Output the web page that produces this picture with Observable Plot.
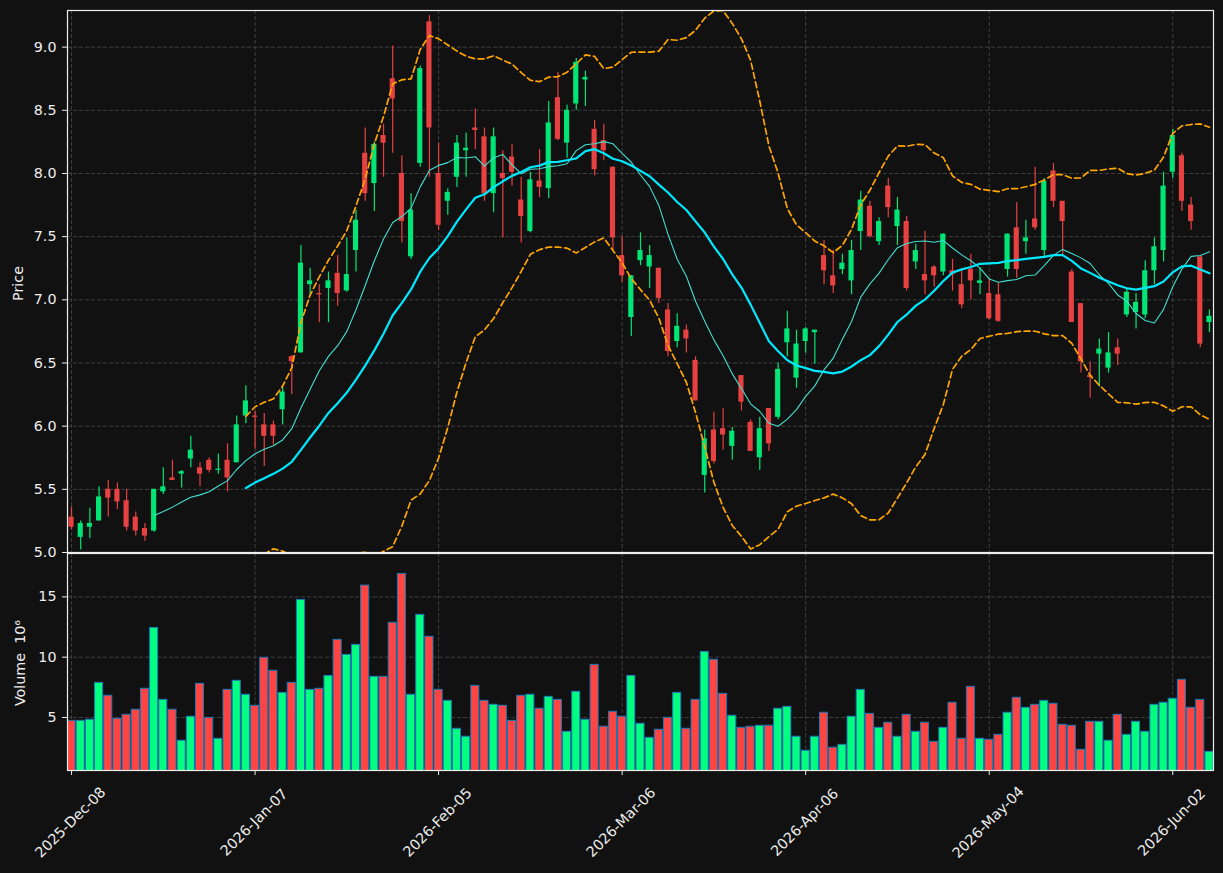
<!DOCTYPE html>
<html><head><meta charset="utf-8">
<script src="https://cdn.jsdelivr.net/npm/d3@7"></script>
<script src="https://cdn.jsdelivr.net/npm/@observablehq/plot@0.6"></script>
<style>
html,body{margin:0;padding:0;background:#111111;}
#chart{position:relative;width:1223px;height:873px;background:#111111;overflow:hidden;}
#chart svg{position:absolute;left:0;overflow:visible;}
#chart svg text{font-family:'DejaVu Sans',sans-serif !important;font-size:14.3px !important;}
</style></head><body><div id="chart"></div>
<script>
// Daily OHLC (index 0 = 2025-12-08, trading days)
const open  = [5.28,5.12,5.20,5.25,5.50,5.50,5.41,5.28,5.19,5.17, 5.48,5.59,5.62,5.74,5.67,5.73,5.65,5.73,5.71,6.08,
               6.08,6.01,6.01,6.13,6.55,6.58,7.12,7.05,7.09,7.21, 7.07,7.39,8.16,7.92,8.30,8.75,8.00,7.34,8.08,9.20,
               8.00,7.78,7.97,8.18,8.36,8.29,7.84,8.00,8.13,7.79, 7.54,7.94,7.88,8.60,8.24,8.55,8.74,8.35,8.26,8.05,
               7.35,6.86,7.31,7.26,7.25,6.92,6.67,6.76,6.52,5.61, 5.97,5.98,5.84,6.40,6.03,5.75,6.14,6.07,6.66,6.38,
               6.67,6.74,7.35,7.19,7.24,7.15,7.54,7.74,7.46,7.90, 7.58,7.62,7.30,7.20,7.26,7.22,7.23,7.12,7.24,7.13,
               7.05,7.04,7.24,7.57,7.46,7.64,7.39,8.02,7.78,7.22, 6.97,6.40,6.57,6.46,6.62,6.88,6.90,6.88,7.23,7.39,
               8.01,8.14,7.75,7.34,6.82];
const high  = [5.36,5.25,5.35,5.52,5.57,5.55,5.50,5.32,5.23,5.50, 5.67,5.73,5.65,5.92,5.71,5.75,5.78,5.86,6.08,6.32,
               6.12,6.10,6.04,6.31,6.56,7.43,7.25,7.12,7.22,7.35, 7.49,7.71,8.36,8.25,8.39,9.01,8.14,7.84,8.85,9.25,
               8.24,7.88,8.30,8.32,8.51,8.36,8.36,8.18,8.23,7.97, 8.01,8.19,8.57,8.80,8.54,8.91,8.81,8.42,8.39,8.05,
               7.50,7.19,7.53,7.43,7.25,6.97,6.89,6.80,6.55,5.97, 6.11,6.14,5.99,6.40,6.05,6.07,6.14,6.50,6.91,6.76,
               6.78,6.76,7.47,7.39,7.36,7.47,7.86,7.78,7.65,7.96, 7.81,7.66,7.44,7.54,7.27,7.52,7.32,7.24,7.36,7.25,
               7.17,7.13,7.52,7.77,7.63,8.05,7.96,8.08,7.78,7.24, 6.97,6.51,6.69,6.74,6.69,7.09,7.05,7.31,7.49,8.01,
               8.35,8.16,7.81,7.34,6.92];
const low   = [5.18,5.02,5.11,5.25,5.28,5.34,5.17,5.13,5.09,5.16, 5.46,5.57,5.51,5.67,5.52,5.63,5.62,5.48,5.71,6.02,
               5.82,5.68,5.85,6.01,6.25,6.58,7.03,6.82,6.82,6.95, 7.06,7.22,7.78,7.70,7.97,8.16,7.45,7.32,8.05,7.97,
               7.55,7.67,7.89,7.97,8.19,7.78,7.69,7.49,7.90,7.45, 7.53,7.81,7.80,8.26,8.12,8.50,8.53,7.98,8.10,7.39,
               7.14,6.71,7.27,7.09,6.97,6.55,6.62,6.58,6.20,5.47, 5.70,5.81,5.73,6.12,5.80,5.65,5.80,6.05,6.55,6.30,
               6.58,6.49,7.12,7.05,7.20,7.04,7.39,7.49,7.43,7.65, 7.43,7.07,7.24,7.04,7.10,7.19,7.07,6.93,7.00,7.04,
               6.84,6.82,7.18,7.17,7.36,7.55,7.33,7.73,7.36,6.82, 6.42,6.22,6.31,6.42,6.48,6.86,6.77,6.85,7.12,7.30,
               7.96,7.70,7.55,6.62,6.74];
const close = [5.20,5.23,5.23,5.44,5.43,5.40,5.20,5.17,5.13,5.50, 5.52,5.57,5.64,5.81,5.62,5.65,5.66,5.59,6.01,6.20,
               6.07,5.92,5.92,6.27,6.51,7.29,7.15,7.04,7.15,7.05, 7.20,7.63,7.84,8.23,8.24,8.59,7.62,7.71,8.83,8.36,
               7.59,7.85,8.24,8.20,8.34,7.84,8.29,7.96,8.01,7.66, 7.95,7.89,8.40,8.27,8.50,8.88,8.76,8.03,8.18,7.49,
               7.19,7.19,7.39,7.35,7.01,6.59,6.79,6.69,6.20,5.90, 5.72,5.93,5.96,6.19,5.80,5.98,5.86,6.45,6.77,6.65,
               6.77,6.76,7.23,7.11,7.29,7.39,7.79,7.50,7.62,7.73, 7.71,7.09,7.39,7.15,7.19,7.52,7.20,6.96,7.15,7.15,
               6.85,6.83,7.52,7.24,7.49,7.57,7.94,7.78,7.62,6.82, 6.51,6.385,6.61,6.58,6.57,7.06,6.98,7.23,7.42,7.90,
               8.30,7.78,7.62,6.65,6.87];
// Volume in millions
const volume = [4.72,4.72,4.81,7.87,6.80,4.89,5.22,5.64,7.38,12.43, 6.46,5.64,3.07,5.06,7.79,4.97,3.23,7.29,8.04,6.88,
                5.97,9.94,8.87,7.04,7.87,14.75,7.29,7.38,8.45,11.44, 10.19,11.02,15.94,8.37,8.37,12.85,16.91,6.88,13.51,11.69,
                7.29,6.38,4.06,3.40,7.62,6.38,6.05,5.97,4.72,6.80, 6.88,5.72,6.71,6.46,3.81,7.13,4.81,9.36,4.23,5.47,
                5.06,8.45,4.48,3.31,3.98,4.97,7.04,4.06,6.46,10.44, 9.78,6.96,5.14,4.14,4.23,4.31,4.31,5.72,5.88,3.40,
                2.24,3.40,5.39,2.49,2.73,5.06,7.29,5.30,4.14,4.56, 3.40,5.22,3.81,4.56,2.98,4.14,6.22,3.23,7.54,3.23,
                3.15,3.56,5.39,6.63,5.80,6.05,6.38,6.13,4.39,4.31, 2.32,4.64,4.64,3.07,5.22,3.56,4.64,3.81,6.05,6.22,
                6.55,8.12,5.80,6.46,2.15];
const tickIndex  = [0, 20, 40, 60, 80, 100, 120];
const tickLabels = ["2025-Dec-08","2026-Jan-07","2026-Feb-05","2026-Mar-06","2026-Apr-06","2026-May-04","2026-Jun-02"];
const priceTicks = [5.0,5.5,6.0,6.5,7.0,7.5,8.0,8.5,9.0];
const volumeTicks = [5,10,15];

const UP = "#00e676", DOWN = "#e84142", VUP = "#00ff80", VDOWN = "#ff4444";
const TXT = "#eeeeee", GRID = "#444444";

const bars = close.map((c, i) => {
  const o = open[i];
  const lo = Math.min(o, c), hi = Math.max(o, c);
  const pad = hi - lo < 0.008 ? (0.008 - (hi - lo)) / 2 : 0;
  return {i, o, h: high[i], l: low[i], c, v: volume[i], up: c >= o, b1: lo - pad, b2: hi + pad};
});

function sma(arr, n) { return arr.map((_, i) => i < n - 1 ? null : d3.mean(arr.slice(i - n + 1, i + 1))); }
function sstd(arr, n) { return arr.map((_, i) => i < n - 1 ? null : d3.deviation(arr.slice(i - n + 1, i + 1))); }
const ma10 = sma(close, 10), ma20 = sma(close, 20), sd20 = sstd(close, 20);
const toPts = a => a.map((v, i) => ({i, v})).filter(d => d.v != null);
const ma10Pts = toPts(ma10), ma20Pts = toPts(ma20);
const upperPts = toPts(ma20.map((m, i) => m == null ? null : m + 2 * sd20[i]));
const lowerPts = toPts(ma20.map((m, i) => m == null ? null : m - 2 * sd20[i]));

const xDomain = [-0.44, 124.44];
const common = {
  width: 1223, marginLeft: 67, marginRight: 10,
  style: {background: "transparent", color: TXT, fontFamily: "'DejaVu Sans', sans-serif", fontSize: "14px", overflow: "visible"}
};
const gridOpts = {stroke: GRID, strokeOpacity: 1, strokeDasharray: "4,2", strokeWidth: 0.9};

const price = Plot.plot({
  ...common, height: 553, marginTop: 10, marginBottom: 1,
  x: {domain: xDomain, axis: null},
  y: {domain: [5.0, 9.29], axis: null},
  marks: [
    Plot.gridX(tickIndex, gridOpts),
    Plot.gridY(priceTicks, gridOpts),
    Plot.ruleX(bars, {x: "i", y1: "l", y2: "h", stroke: d => d.up ? UP : DOWN, strokeWidth: 1.2, clip: true}),
    Plot.rect(bars, {x1: d => d.i - 0.28, x2: d => d.i + 0.28, y1: "b1", y2: "b2", fill: d => d.up ? UP : DOWN, clip: true}),
    Plot.line(upperPts, {x: "i", y: "v", stroke: "#ffa500", strokeWidth: 1.7, strokeDasharray: "6,3.5", clip: true}),
    Plot.line(lowerPts, {x: "i", y: "v", stroke: "#ffa500", strokeWidth: 1.7, strokeDasharray: "6,3.5", clip: true}),
    Plot.line(ma10Pts, {x: "i", y: "v", stroke: "#40e0d0", strokeWidth: 1.1, clip: true}),
    Plot.line(ma20Pts, {x: "i", y: "v", stroke: "#00e8ff", strokeWidth: 2.2, clip: true}),
    Plot.axisY(priceTicks, {tickFormat: d => d.toFixed(1), tickSize: 5, tickPadding: 6, label: null, fontSize: 14}),
    Plot.text(["Price"], {text: d => d, frameAnchor: "left", textAnchor: "middle", lineAnchor: "middle",
      dx: -49, dy: 2, rotate: -90, fill: TXT, fontSize: 14}),
    Plot.frame({stroke: TXT, strokeWidth: 1.2})
  ]
});
price.style.top = "0px";

const vol = Plot.plot({
  ...common, height: 321, marginTop: 1, marginBottom: 103,
  x: {domain: xDomain, axis: null},
  y: {domain: [0.6, 18.6], axis: null},
  marks: [
    Plot.gridX(tickIndex, gridOpts),
    Plot.gridY(volumeTicks, gridOpts),
    Plot.rect(bars, {x1: d => d.i - 0.44, x2: d => d.i + 0.44, y1: 0, y2: "v",
      fill: d => d.up ? VUP : VDOWN, stroke: "#1f77b4", strokeWidth: 1, clip: true}),
    Plot.axisY(volumeTicks, {tickFormat: d => String(d), tickSize: 5, tickPadding: 6, label: null, fontSize: 14}),
    Plot.axisX(tickIndex, {tickFormat: () => "", tickSize: 5, label: null}),
    Plot.text(tickIndex, {x: d => d, text: (d, i) => tickLabels[i], frameAnchor: "bottom", dy: 52, dx: -1,
      rotate: -45, textAnchor: "middle", lineAnchor: "middle", fill: TXT, fontSize: 14}),
    Plot.text(["Volume  10⁶"], {text: d => d, frameAnchor: "left", textAnchor: "middle", lineAnchor: "middle",
      dx: -47, dy: 1, rotate: -90, fill: TXT, fontSize: 14}),
    Plot.frame({stroke: TXT, strokeWidth: 1.2})
  ]
});
vol.style.top = "552px";

const chart = document.getElementById("chart");
chart.appendChild(vol);
chart.appendChild(price);
</script>
</body></html>
